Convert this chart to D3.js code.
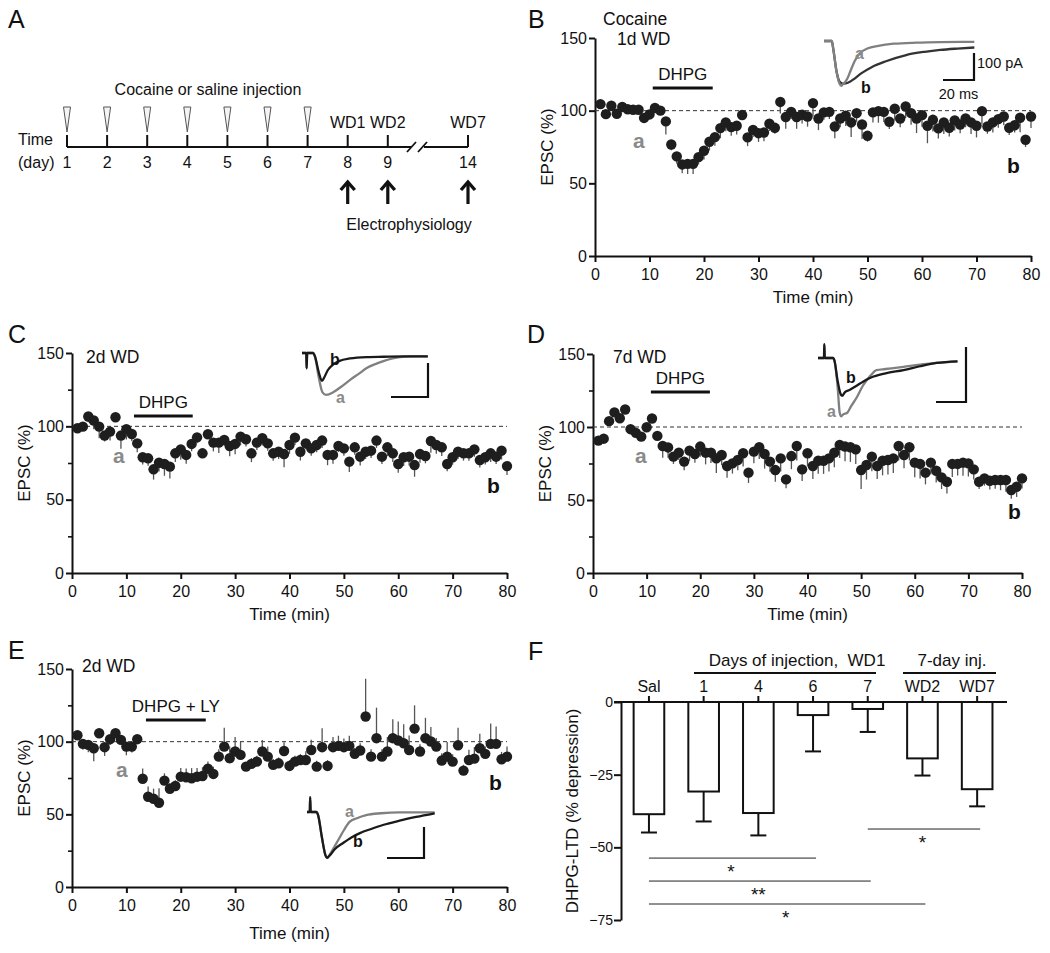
<!DOCTYPE html>
<html><head><meta charset="utf-8">
<script src="https://cdn.jsdelivr.net/npm/d3@7"></script>
<style>body{margin:0;background:#fff} svg{display:block}</style>
</head><body><svg id="fig" width="1050" height="953"></svg>
<script>
// ---------------- DATA ----------------
const minutes = d3.range(1, 81);
const xTicks = [0,10,20,30,40,50,60,70,80];
const yTicks = [0,50,100,150];
const yMinorTicks = [25,75,125];

const epscB = [104.5,97.6,103.4,97.9,102.5,101,100.6,100.6,95,97.4,
  101.8,100,92.6,76.7,68.5,63,63.4,63.4,68,72.4,
  78.6,81.8,88,91.9,88.7,89.6,97,81.6,86.8,84.5,
  85,91,88.2,106,95.6,99.2,95.6,97.2,96,105.2,
  94.6,98.8,99.2,89.1,94.6,96.5,91.9,98.3,90.5,82.7,
  98.8,99.7,99.2,92.4,101.3,94.6,102.9,98.3,94.6,96.9,
  89.6,93.7,87.8,91.9,88.2,93.3,90.5,94.6,91.9,89.6,
  99.7,89.1,91.9,94.2,96,88.2,90,95.1,80,96];
const semB = [2,2,2,2,2,2,2,2,3,2, 2,2,9,4,5,6,7,7,5,6, 6,6,7,6,6,6,2,6,5,6,
  6,5,4,8,8,5,8,6,7,9, 8,5,5,8,6,7,10,6,10,4, 7,8,7,5,8,6,8,8,10,8,
  12,8,7,8,6,7,6,6,8,8, 9,5,7,6,6,5,5,10,5,8];

const epscC = [98.7,99.8,106.7,104,99.8,93.7,96.4,106.2,93.7,98,
  94.8,88.4,78.9,78.2,70.7,75.2,74.3,72.5,81.6,84.3,
  80.5,88,92.5,81.6,94.6,88.9,88.9,90.7,86.6,88,
  93,91.2,81.6,88.9,91.9,88.4,81.6,82.7,81.1,87.3,
  92.3,82.7,88.4,85,87.3,90.3,80.5,80.5,86.6,85,
  75.9,85.7,79.3,82.7,83.4,90.3,79.3,85.7,81.6,74.3,
  78.9,79.3,73.6,81.1,79.8,90,87.3,85.7,74.3,78.9,
  82.7,81.6,81.6,84.3,77,78.9,81.6,79.3,83.4,72.9];
const semC = [3,2,4,6,8,4,6,2,9,7, 5,6,5,5,7,6,8,8,6,7, 6,5,4,2,3,6,7,4,7,7,
  6,5,6,5,5,5,5,5,9,6, 5,6,4,5,5,5,7,6,4,5, 7,5,6,5,5,5,5,6,6,6,
  6,6,8,6,5,8,6,6,5,5, 5,5,5,5,5,5,6,5,6,6];

const epscD = [90.7,92,104,110,106,112,98.5,96,93.4,99.8,
  105.8,93.9,87,86,79.7,82.4,76.3,83.8,81.5,86.6,
  82.4,82.4,78.5,80.8,73.3,75.1,77.4,82,68.7,83.1,
  86.1,81.5,76.3,70.5,78.5,64.1,80.1,87,71,82,
  73.3,76.9,76.9,78.5,82.4,87.7,86.6,86.1,84.7,70.5,
  74,79.7,73.3,76.9,77.4,78.5,87,80.8,86.1,75.6,
  74.7,68.7,75.6,70,65.5,62.5,74.7,74.7,75.6,75.1,
  71,62.5,64.8,63.2,63.7,63.7,63.7,56.8,59.1,64.8];
const semD = [2,2,3,3,3,3,2,2,2,2, 2,3,8,7,5,5,6,7,6,7, 8,7,10,7,8,7,7,9,7,8,
  8,10,7,8,9,6,9,10,8,9, 9,9,9,9,10,9,10,10,10,13, 10,10,9,10,10,10,10,9,9,10,
  10,8,8,8,8,8,9,8,9,9, 7,5,5,6,6,7,8,6,7,7];

const epscE = [104.4,98.5,97.8,95.5,105.8,96.2,101.7,105.8,101.2,96.6,
  96.6,101.7,74.5,62.1,60.7,58,73.2,67.6,69.5,75.9,
  75.5,74.8,75.9,76.4,81.4,77.8,89.7,96.6,88.6,93.2,
  90.9,82.8,84.7,86.3,93.2,89.7,84,85.1,93.6,83.3,
  86.3,87.4,87.4,94.3,82.8,96.2,83.3,96.2,97.1,96.2,
  97.1,91.6,93.9,117.3,89.7,102.4,89.7,93.2,102.4,100.8,
  98.9,94.3,109,93.2,102.4,100.1,96.6,87,89.7,86.3,
  97.5,80.1,87.4,88.3,95.5,91.6,98.5,98.5,87.9,89.7];
const semE = [3,4,5,9,3,6,4,3,3,6, 4,3,7,7,7,10,5,4,4,6, 6,7,6,6,5,5,5,13,8,10,
  9,3,4,4,8,7,4,4,6,4, 4,4,6,7,4,13,4,7,7,6, 7,4,5,26,5,21,5,10,13,13,
  13,10,16,5,14,10,6,5,10,5, 12,4,7,8,10,5,14,12,5,7];
const semUpFromMinuteE = 13;

// drug application windows (min)
const drugB = [10.6, 21.6], drugC = [11.4, 22.2], drugD = [10.8, 21.8], drugE = [13.6, 24.6];

// example EPSC traces [ms, pA]
const traceBa = [[0,0],[5,0],[6,-30],[8,-110],[10,-158],[11,-166],[12,-162],[15,-140],[17,-112],[20,-72],[23,-46],[28,-28],[35,-18],[45,-10],[60,-6],[75,-4],[97,-3]];
const traceBb = [[0,0],[5,0],[6,-30],[8,-110],[10,-150],[12,-158],[14,-157],[17,-150],[19,-142],[24,-120],[31,-96],[40,-75],[53,-52],[65,-40],[75,-33],[86,-28],[97,-24]];
const traceCa = [[0,0],[2.3,0],[2.5,-45],[2.8,0],[6,0],[7,-10],[9,-70],[11,-115],[13,-123],[17,-115],[21,-100],[26,-79],[31,-60],[35,-44],[40,-32],[44,-24],[49,-16],[53,-12],[60,-10],[68,-10]];
const traceCb = [[0,0],[2.3,0],[2.5,-45],[2.8,0],[6,0],[7,-10],[9,-55],[10.8,-82],[12,-72],[14,-50],[16.8,-34],[20,-24],[26,-16],[35,-12],[44,-11],[55,-10],[68,-10]];
const traceDa = [[0,0],[4,0],[4.2,25],[4.5,0],[10,0],[11,-5],[13,-50],[14.5,-100],[15.5,-106],[17,-102],[19.3,-100],[22,-88],[26,-71],[30,-50],[35,-32],[39,-22],[45,-20],[57,-16],[68,-12],[79,-9],[93,-6]];
const traceDb = [[0,0],[4,0],[4.2,25],[4.5,0],[10,0],[11,-5],[13,-40],[15,-65],[16,-69],[18,-62],[21,-58],[26,-50],[30,-43],[35,-36],[45,-28],[57,-22],[68,-15],[79,-9],[93,-6]];
const traceEa = [[0,0],[1.5,0],[1.7,48],[2,0],[5,0],[6,-10],[8,-80],[10,-140],[10.8,-148],[12,-140],[15,-110],[17.8,-81],[20,-58],[23,-32],[27,-20],[32,-10],[40,-4],[50,-1],[69,-1]];
const traceEb = [[0,0],[1.5,0],[1.7,48],[2,0],[5,0],[6,-10],[8,-80],[10,-140],[10.8,-148],[12,-142],[15,-120],[19.5,-100],[24,-82],[28.6,-68],[35,-54],[41,-42],[50,-28],[59,-16],[69,-4]];

// Panel A timeline
const timelineDays = [1,2,3,4,5,6,7,8,9,14];
const injectionDays = [1,2,3,4,5,6,7];
const recordingDays = [8,9,14];
const recordingLabels = ["WD1","WD2","WD7"];

// Panel F
const categoriesF = ["Sal","1","4","6","7","WD2","WD7"];
const ltdF = [-38.6,-30.8,-38.2,-4.5,-2.4,-19.4,-30.0];
const semF = [6.3,10.3,7.7,12.5,7.9,5.9,5.9];
const fTicks = [0,-25,-50,-75];
const sigPairs = [["Sal","6"],["Sal","7"],["Sal","WD2"],["7","WD7"]];
const sigLevels = [-53.7,-61.6,-69.5,-43.7];
const sigLabels = ["*","**","*","*"];

// ---------------- DRAWING ----------------
const FONT = '"Liberation Sans", Arial, Helvetica, sans-serif';
const svg = d3.select("#fig");
function txt(x, y, s, o = {}) {
  return svg.append("text").attr("x", x).attr("y", y).text(s)
    .attr("font-family", FONT).attr("font-size", o.size || 16)
    .attr("font-weight", o.weight || "normal")
    .attr("fill", o.fill || "#111")
    .attr("text-anchor", o.anchor || "start");
}
function styleAxis(g, fs) {
  g.attr("font-family", FONT).attr("font-size", fs);
  g.select(".domain").attr("stroke", "#111").attr("stroke-width", 2);
  g.selectAll(".tick line").attr("stroke", "#111").attr("stroke-width", 2);
  g.selectAll(".tick text").attr("fill", "#111");
}

// panel letters
txt(8, 28, "A", {size: 25});
txt(528, 28, "B", {size: 25});
txt(8, 343, "C", {size: 25});
txt(527, 343, "D", {size: 25});
txt(8, 659, "E", {size: 25});
txt(528, 660, "F", {size: 25});

// ---- Panel A ----
(function () {
  const slot = d => d <= 9 ? d - 1 : 10;
  const x = d3.scaleLinear().domain([0, 10]).range([67, 468]);
  const yl = 147;
  const g = svg.append("g");
  g.append("line").attr("x1", x(0)).attr("x2", 411).attr("y1", yl).attr("y2", yl).attr("stroke", "#111").attr("stroke-width", 2);
  g.append("line").attr("x1", 424).attr("x2", x(10)).attr("y1", yl).attr("y2", yl).attr("stroke", "#111").attr("stroke-width", 2);
  [[407, 152, 416, 142], [418, 152, 427, 142]].forEach(s =>
    g.append("line").attr("x1", s[0]).attr("y1", s[1]).attr("x2", s[2]).attr("y2", s[3]).attr("stroke", "#111").attr("stroke-width", 1.8));
  timelineDays.forEach(d => {
    g.append("line").attr("x1", x(slot(d))).attr("x2", x(slot(d))).attr("y1", 135).attr("y2", yl).attr("stroke", "#111").attr("stroke-width", 2);
    txt(x(slot(d)), 168, String(d), {anchor: "middle"});
  });
  injectionDays.forEach(d => {
    const cx = x(slot(d));
    g.append("polygon").attr("points", `${cx-3.5},107 ${cx+3.5},107 ${cx},132`)
      .attr("fill", "#f4f4f4").attr("stroke", "#555").attr("stroke-width", 1);
  });
  recordingDays.forEach((d, i) => {
    const cx = x(slot(d));
    txt(cx, 128, recordingLabels[i], {anchor: "middle"});
    g.append("line").attr("x1", cx).attr("x2", cx).attr("y1", 183).attr("y2", 204).attr("stroke", "#111").attr("stroke-width", 3.2);
    g.append("polyline").attr("points", `${cx-7},190 ${cx},182 ${cx+7},190`).attr("fill", "none").attr("stroke", "#111").attr("stroke-width", 3.4);
  });
  txt(18, 145, "Time");
  txt(18, 168, "(day)");
  txt(208, 95, "Cocaine or saline injection", {anchor: "middle"});
  txt(409, 230, "Electrophysiology", {anchor: "middle"});
})();

// ---- time course panels ----
function timeCourse(o) {
  const x = d3.scaleLinear().domain([0, 80]).range([o.left, o.right]);
  const y = d3.scaleLinear().domain([0, 150]).range([o.bottom, o.top]);
  const g = svg.append("g");
  const ax = g.append("g").attr("transform", `translate(0,${o.bottom})`)
    .call(d3.axisBottom(x).tickValues(xTicks).tickSize(6).tickSizeOuter(0).tickPadding(7));
  styleAxis(ax, 16);
  const ay = g.append("g").attr("transform", `translate(${o.left},0)`)
    .call(d3.axisLeft(y).tickValues(yTicks).tickSize(6).tickSizeOuter(0).tickPadding(2));
  styleAxis(ay, 16);
  if (o.minor) {
    const am = g.append("g").attr("transform", `translate(${o.left},0)`)
      .call(d3.axisLeft(y).tickValues(yMinorTicks).tickSize(4).tickFormat(""));
    am.select(".domain").remove();
    am.selectAll(".tick line").attr("stroke", "#111").attr("stroke-width", 1.6);
  }
  g.append("line").attr("x1", x(0)).attr("x2", x(80)).attr("y1", y(100)).attr("y2", y(100))
    .attr("stroke", "#333").attr("stroke-width", 1).attr("stroke-dasharray", "4,3");
  const pts = minutes.map((m, i) => ({m, v: o.values[i], e: o.sems[i], up: o.upFrom != null && m >= o.upFrom}));
  g.selectAll("line.err").data(pts).join("line").attr("class", "err")
    .attr("x1", d => x(d.m)).attr("x2", d => x(d.m))
    .attr("y1", d => y(d.v)).attr("y2", d => y(d.up ? d.v + d.e : d.v - d.e))
    .attr("stroke", "#555").attr("stroke-width", 1.3);
  g.selectAll("circle.dot").data(pts).join("circle").attr("class", "dot")
    .attr("cx", d => x(d.m)).attr("cy", d => y(d.v)).attr("r", 5.2).attr("fill", "#1e1e1e");
  // drug bar
  g.append("line").attr("x1", x(o.drug[0])).attr("x2", x(o.drug[1])).attr("y1", o.drugY).attr("y2", o.drugY)
    .attr("stroke", "#111").attr("stroke-width", 3);
  txt((x(o.drug[0]) + x(o.drug[1])) / 2, o.drugY - 8, o.drugLabel, {anchor: "middle", size: 17});
  // labels
  txt((o.left + o.right) / 2, o.bottom + o.xlabOff, "Time (min)", {anchor: "middle", size: 17});
  svg.append("text").attr("transform", `translate(${o.left - 42},${y(75)}) rotate(-90)`)
    .attr("text-anchor", "middle").attr("font-family", FONT).attr("font-size", 17).attr("fill", "#111").text("EPSC (%)");
  o.titles.forEach(t => txt(t[0], t[1], t[2], {size: 17.5}));
  txt(o.aPos[0], o.aPos[1], "a", {size: 21, weight: "bold", fill: "#8a8a8a"});
  txt(o.bPos[0], o.bPos[1], "b", {size: 21, weight: "bold", fill: "#111"});
}

function inset(o) {
  const x = d3.scaleLinear().domain([0, 1]).range([o.ox, o.ox + o.pxMs]);
  const y = d3.scaleLinear().domain([0, 1]).range([o.oy, o.oy - o.pxPA]);
  const line = d3.line().x(d => x(d[0])).y(d => y(d[1])).curve(d3.curveMonotoneX);
  o.traces.forEach(t => svg.append("path").attr("d", line(t.data)).attr("fill", "none")
    .attr("stroke", t.color).attr("stroke-width", 2.3).attr("stroke-linejoin", "round"));
  const cx = o.corner[0], cy = o.corner[1];
  svg.append("path").attr("d", `M${cx - 20 * o.pxMs},${cy}H${cx}V${cy - 100 * o.pxPA}`)
    .attr("fill", "none").attr("stroke", "#111").attr("stroke-width", 2.2);
  txt(o.aLab[0], o.aLab[1], "a", {size: 16, weight: "bold", fill: "#8a8a8a"});
  txt(o.bLab[0], o.bLab[1], "b", {size: 16, weight: "bold", fill: "#111"});
  if (o.barLabels) {
    txt(cx + 3, cy - 12, "100 pA", {size: 14.5});
    txt(cx - 10 * o.pxMs, cy + 19, "20 ms", {size: 14.5, anchor: "middle"});
  }
}

timeCourse({left: 595, right: 1031, top: 38, bottom: 256, values: epscB, sems: semB, minor: false,
  drug: drugB, drugY: 88, drugLabel: "DHPG", xlabOff: 47,
  titles: [[603, 25, "Cocaine"], [617, 45, "1d WD"]], aPos: [633, 148], bPos: [1007, 173]});
inset({ox: 824, oy: 41, pxMs: 1.55, pxPA: 0.27, corner: [974, 80], barLabels: true,
  traces: [{data: traceBb, color: "#333"}, {data: traceBa, color: "#808080"}], aLab: [855, 59], bLab: [861, 93]});

timeCourse({left: 72, right: 507, top: 353, bottom: 573, values: epscC, sems: semC, minor: true,
  drug: drugC, drugY: 416, drugLabel: "DHPG", xlabOff: 47,
  titles: [[86, 363, "2d WD"]], aPos: [113, 463], bPos: [487, 493]});
inset({ox: 302, oy: 353, pxMs: 1.85, pxPA: 0.34, corner: [428, 397],
  traces: [{data: traceCa, color: "#808080"}, {data: traceCb, color: "#1a1a1a"}], aLab: [336, 403], bLab: [330, 365]});

timeCourse({left: 593, right: 1022, top: 354, bottom: 573, values: epscD, sems: semD, minor: true,
  drug: drugD, drugY: 392, drugLabel: "DHPG", xlabOff: 47,
  titles: [[613, 363, "7d WD"]], aPos: [635, 463], bPos: [1008, 519]});
inset({ox: 818, oy: 358, pxMs: 1.5, pxPA: 0.55, corner: [966, 402],
  traces: [{data: traceDa, color: "#808080"}, {data: traceDb, color: "#1a1a1a"}], aLab: [827, 417], bLab: [846, 383]});

timeCourse({left: 72, right: 507, top: 669, bottom: 887, values: epscE, sems: semE, upFrom: semUpFromMinuteE, minor: true,
  drug: drugE, drugY: 720, drugLabel: "DHPG + LY", xlabOff: 52,
  titles: [[82, 672, "2d WD"]], aPos: [116, 777], bPos: [489, 790]});
inset({ox: 307, oy: 812, pxMs: 1.85, pxPA: 0.31, corner: [424, 858],
  traces: [{data: traceEa, color: "#808080"}, {data: traceEb, color: "#1a1a1a"}], aLab: [345, 817], bLab: [353, 847]});

// ---- Panel F ----
(function () {
  const x = d3.scaleBand().domain(categoriesF).range([621.6, 1004.5]).paddingInner(0.44).paddingOuter(0.22);
  const y = d3.scaleLinear().domain([-75, 0]).range([920, 702]);
  const g = svg.append("g");
  const ay = g.append("g").attr("transform", "translate(621,0)")
    .call(d3.axisLeft(y).tickValues(fTicks).tickSize(7).tickSizeOuter(0).tickPadding(1));
  styleAxis(ay, 14);
  g.append("line").attr("x1", 614).attr("x2", 1007).attr("y1", y(0)).attr("y2", y(0)).attr("stroke", "#111").attr("stroke-width", 2);
  const c = d => x(d) + x.bandwidth() / 2;
  categoriesF.forEach((cat, i) => {
    g.append("line").attr("x1", c(cat)).attr("x2", c(cat)).attr("y1", 696).attr("y2", 702).attr("stroke", "#111").attr("stroke-width", 2);
    txt(c(cat), 692, cat, {anchor: "middle"});
    const v = ltdF[i], e = semF[i];
    g.append("line").attr("x1", c(cat)).attr("x2", c(cat)).attr("y1", y(v)).attr("y2", y(v - e)).attr("stroke", "#111").attr("stroke-width", 2);
    g.append("line").attr("x1", c(cat) - 8).attr("x2", c(cat) + 8).attr("y1", y(v - e)).attr("y2", y(v - e)).attr("stroke", "#111").attr("stroke-width", 2);
    g.append("rect").attr("x", x(cat)).attr("y", y(0)).attr("width", x.bandwidth()).attr("height", y(v) - y(0))
      .attr("fill", "#fff").attr("stroke", "#111").attr("stroke-width", 2);
  });
  sigPairs.forEach((p, i) => {
    const yy = y(sigLevels[i]);
    g.append("line").attr("x1", c(p[0])).attr("x2", c(p[1]) + 3).attr("y1", yy).attr("y2", yy).attr("stroke", "#222").attr("stroke-width", 1);
    txt((c(p[0]) + c(p[1])) / 2, yy + 20, sigLabels[i], {anchor: "middle", size: 19});
  });
  // group brackets
  g.append("line").attr("x1", 694).attr("x2", 876).attr("y1", 673).attr("y2", 673).attr("stroke", "#111").attr("stroke-width", 2);
  txt(797, 666, "Days of injection,\u00a0\u00a0WD1", {anchor: "middle", size: 17});
  g.append("line").attr("x1", 903).attr("x2", 996).attr("y1", 673).attr("y2", 673).attr("stroke", "#111").attr("stroke-width", 2);
  txt(952, 666, "7-day inj.", {anchor: "middle", size: 17});
  svg.append("text").attr("transform", `translate(578,${y(-37.5)}) rotate(-90)`)
    .attr("text-anchor", "middle").attr("font-family", FONT).attr("font-size", 17).attr("fill", "#111").text("DHPG-LTD (% depression)");
})();
</script>
</body></html>
